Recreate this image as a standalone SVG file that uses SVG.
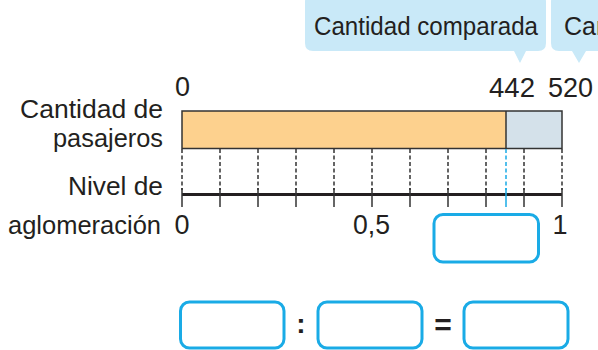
<svg xmlns="http://www.w3.org/2000/svg" width="598" height="350" viewBox="0 0 598 350">
<style>
.t{font-family:"Liberation Sans",Arial,sans-serif;fill:#231f20}
.lab{font-size:26px;text-anchor:end}
.num{font-size:27px;text-anchor:middle}
.call{fill:#c9e9f8}
.ans{fill:#fff;stroke:#1aabe6;stroke-width:3}
.dash{stroke:#333;stroke-width:1.5;stroke-dasharray:4 2.5}
.tick{stroke:#333;stroke-width:1.5}
</style>
<g id="callout-comparada">
<path class="call" d="M313,-6 H538 Q546,-6 546,2 V43 Q546,51 538,51 H526 L520,63 L514,51 H313 Q305,51 305,43 V2 Q305,-6 313,-6 Z"/>
<text class="t" x="314" y="35" font-size="25" textLength="224" lengthAdjust="spacingAndGlyphs">Cantidad comparada</text>
</g>
<g id="callout-referencia">
<path class="call" d="M559,-6 H610 V51 H586 L579,63 L572,51 H559 Q551,51 551,43 V2 Q551,-6 559,-6 Z"/>
<text class="t" x="564" y="35" font-size="25">Can</text>
</g>
<g id="labels">
<text class="t lab" x="163" y="118" textLength="143" lengthAdjust="spacingAndGlyphs">Cantidad de</text>
<text class="t lab" x="163" y="146.5" textLength="110" lengthAdjust="spacingAndGlyphs">pasajeros</text>
<text class="t lab" x="163" y="194.5" textLength="95" lengthAdjust="spacingAndGlyphs">Nivel de</text>
<text class="t lab" x="161" y="234" textLength="153" lengthAdjust="spacingAndGlyphs">aglomeración</text>
</g>
<g id="top-numbers">
<text class="t num" x="182.5" y="96">0</text>
<text class="t num" x="512" y="97" textLength="46" lengthAdjust="spacingAndGlyphs">442</text>
<text class="t num" x="570.5" y="97" textLength="45" lengthAdjust="spacingAndGlyphs">520</text>
</g>
<g id="bar">
<rect x="182" y="111" width="324" height="37.5" fill="#fdd18e"/>
<rect x="506" y="111" width="56" height="37.5" fill="#d4e1ea"/>
<rect x="182" y="111" width="380" height="37.5" fill="none" stroke="#333" stroke-width="1.5"/>
<line x1="506" y1="111" x2="506" y2="148.5" stroke="#333" stroke-width="1.5"/>
</g>
<g id="connectors">
<g class="dash">
<line x1="182" y1="149" x2="182" y2="190"/>
<line x1="220" y1="149" x2="220" y2="190"/>
<line x1="258" y1="149" x2="258" y2="190"/>
<line x1="296" y1="149" x2="296" y2="190"/>
<line x1="334" y1="149" x2="334" y2="190"/>
<line x1="372" y1="149" x2="372" y2="190"/>
<line x1="410" y1="149" x2="410" y2="190"/>
<line x1="448" y1="149" x2="448" y2="190"/>
<line x1="486" y1="149" x2="486" y2="190"/>
<line x1="524" y1="149" x2="524" y2="190"/>
<line x1="562" y1="149" x2="562" y2="190"/>
</g>
<line x1="506" y1="149" x2="506" y2="190" stroke="#1aabe6" stroke-width="1.5" stroke-dasharray="4 2.5"/>
</g>
<g id="axis">
<line x1="182" y1="194.5" x2="562" y2="194.5" stroke="#231f20" stroke-width="3"/>
<g class="tick">
<line x1="182" y1="188" x2="182" y2="207"/>
<line x1="220" y1="188" x2="220" y2="207"/>
<line x1="258" y1="188" x2="258" y2="207"/>
<line x1="296" y1="188" x2="296" y2="207"/>
<line x1="334" y1="188" x2="334" y2="207"/>
<line x1="372" y1="188" x2="372" y2="207"/>
<line x1="410" y1="188" x2="410" y2="207"/>
<line x1="448" y1="188" x2="448" y2="207"/>
<line x1="486" y1="188" x2="486" y2="207"/>
<line x1="524" y1="188" x2="524" y2="207"/>
<line x1="562" y1="188" x2="562" y2="207"/>
</g>
<line x1="506" y1="188" x2="506" y2="207" stroke="#1aabe6" stroke-width="1.5"/>
<text class="t num" x="182" y="234">0</text>
<text class="t num" x="371.5" y="234" textLength="37" lengthAdjust="spacingAndGlyphs">0,5</text>
<text class="t num" x="560" y="234">1</text>
</g>
<g id="answer-axis">
<rect class="ans" x="434" y="214.5" width="104.5" height="47.5" rx="9"/>
</g>
<g id="equation">
<rect class="ans" x="180.5" y="302" width="103.5" height="46" rx="9"/>
<text class="t" x="301" y="333" font-size="28" font-weight="bold" text-anchor="middle">:</text>
<rect class="ans" x="318" y="302" width="104" height="46" rx="9"/>
<text class="t" x="443" y="335" font-size="30" font-weight="bold" text-anchor="middle">=</text>
<rect class="ans" x="464" y="302" width="104" height="46" rx="9"/>
</g>
</svg>
